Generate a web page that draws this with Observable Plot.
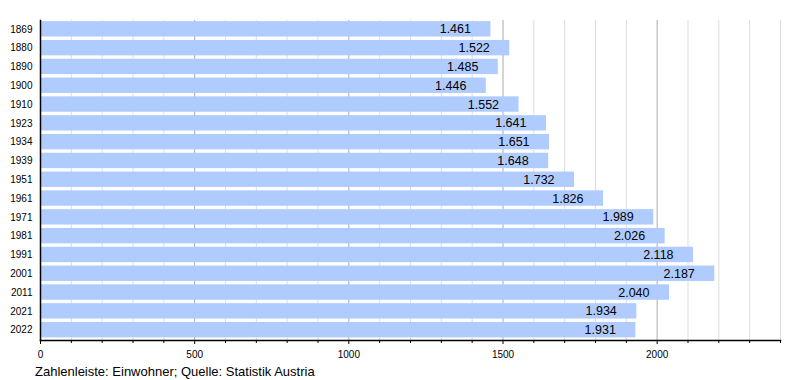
<!DOCTYPE html>
<html>
<head>
<meta charset="utf-8">
<script src="https://cdn.jsdelivr.net/npm/d3@7"></script>
<script src="https://cdn.jsdelivr.net/npm/@observablehq/plot@0.6"></script>
<style>
  body { margin: 0; background: #fff; font-family: "Liberation Sans", Arial, sans-serif; }
  #chart svg { display: block; }
  #caption { font-size: 13px; color: #000; margin: 2px 0 0 35px; line-height: 16px; }
</style>
</head>
<body>
<div id="chart"></div>
<div id="caption">Zahlenleiste: Einwohner; Quelle: Statistik Austria</div>
<script>
const years = ["1869","1880","1890","1900","1910","1923","1934","1939","1951","1961","1971","1981","1991","2001","2011","2021","2022"];
const population = [1461,1522,1485,1446,1552,1641,1651,1648,1732,1826,1989,2026,2118,2187,2040,1934,1931];
const majorTicks = [0,500,1000,1500,2000];
const minorTicks = d3.range(0, 2401, 100).filter(v => v % 500 !== 0);

const data = years.map((y, i) => ({year: y, value: population[i]}));
const fmt = v => d3.format(",")(v).replace(/,/g, ".");

const chart = Plot.plot({
  width: 800,
  height: 362,
  marginLeft: 40,
  marginRight: 20,
  marginTop: 20,
  marginBottom: 22,
  style: {fontFamily: "Liberation Sans, Arial, sans-serif", fontSize: "10px", color: "#000"},
  x: {domain: [0, 2400], label: null},
  y: {domain: years, paddingInner: 0.18, paddingOuter: 0.1, align: 0.3, round: false, label: null},
  marks: [
    Plot.ruleX(minorTicks, {stroke: "#dddddd", strokeWidth: 1}),
    Plot.ruleX(majorTicks.slice(1), {stroke: "#aaaaaa", strokeWidth: 1}),
    Plot.barX(data, {x: "value", y: "year", fill: "#b0ccff"}),
    Plot.text(data, {x: "value", y: "year", text: d => fmt(d.value), textAnchor: "end", dx: -20, fontSize: 12.5, fill: "#000"}),
    Plot.axisX({ticks: minorTicks, tickSize: 3, tickFormat: () => "", stroke: "#000", label: null}),
    Plot.axisX({ticks: majorTicks, tickSize: 4, tickPadding: 6, tickFormat: d => String(d), fontSize: 10, stroke: "#000", label: null}),
    Plot.axisY({tickSize: 0, tickPadding: 8, fontSize: 10, label: null}),
    Plot.frame({anchor: "bottom", stroke: "#000", strokeWidth: 1.5}),
    Plot.frame({anchor: "left", stroke: "#000", strokeWidth: 1.5})
  ]
});
document.getElementById("chart").appendChild(chart);
</script>
</body>
</html>
